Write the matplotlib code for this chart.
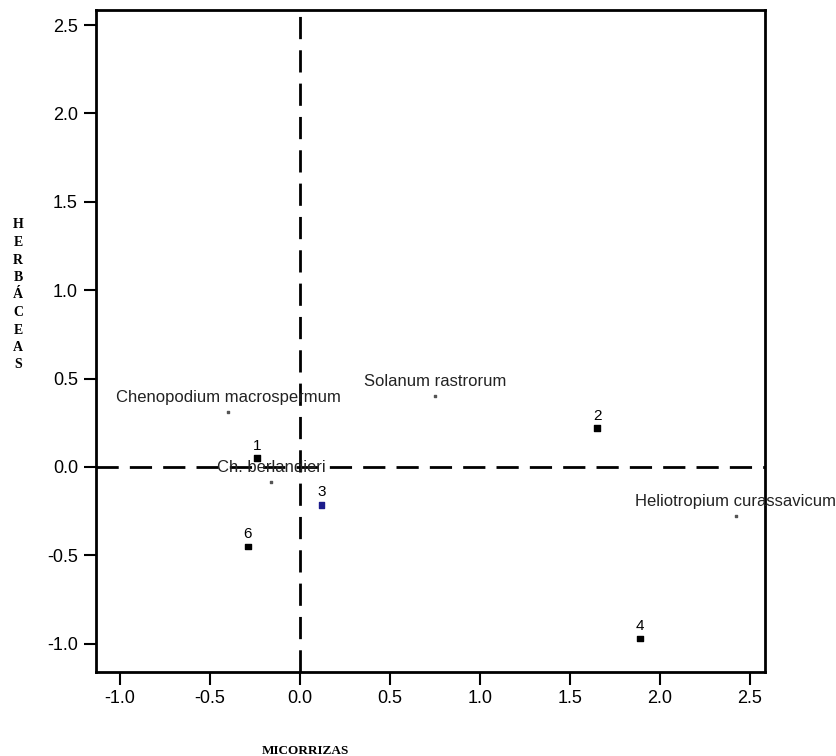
import matplotlib.pyplot as plt

# sites (numbered points)
site_labels = ['1', '2', '3', '4', '6']
site_x = [-0.24, 1.65, 0.12, 1.89, -0.29]
site_y = [0.05, 0.22, -0.215, -0.97, -0.45]
site_colors = ['black', 'black', '#1c1c8c', 'black', 'black']

# species (tiny points with names)
species = ['Chenopodium macrospermum', 'Solanum rastrorum',
           'Heliotropium curassavicum', 'Ch. berlandieri']
species_x = [-0.40, 0.75, 2.42, -0.16]
species_y = [0.31, 0.40, -0.28, -0.085]

xticks = [-1.0, -0.5, 0.0, 0.5, 1.0, 1.5, 2.0, 2.5]
yticks = [-1.0, -0.5, 0.0, 0.5, 1.0, 1.5, 2.0, 2.5]

plt.rcParams['font.family'] = ['Liberation Sans', 'DejaVu Sans']

fig = plt.figure(figsize=(8.37, 7.56), dpi=100)
ax = fig.add_axes([96 / 837, 1 - 672 / 756, (765 - 96) / 837, (672 - 10) / 756])
ax.set_xlim(-1.133, 2.583)
ax.set_ylim(-1.16, 2.585)

ax.axvline(0, color='black', lw=2, ls=(0, (8, 4)), zorder=1)
ax.axhline(0, color='black', lw=2, ls=(0, (8, 4)), zorder=1)

ax.scatter(site_x, site_y, marker='s', s=16, c=site_colors, zorder=3)
for lab, x, y in zip(site_labels, site_x, site_y):
    ax.annotate(lab, (x, y), xytext=(0, 4), textcoords='offset points',
                ha='center', va='bottom', fontsize=11)

ax.scatter(species_x, species_y, marker='s', s=1, c='#555555', zorder=3)
for lab, x, y in zip(species, species_x, species_y):
    ax.annotate(lab, (x, y), xytext=(0, 5), textcoords='offset points',
                ha='center', va='bottom', fontsize=12, color='#222222',
                annotation_clip=False)

ax.set_xticks(xticks)
ax.set_yticks(yticks)
ax.set_xticklabels(['%.1f' % v for v in xticks])
ax.set_yticklabels(['%.1f' % v for v in yticks])
ax.tick_params(direction='out', length=9, width=1.5, labelsize=13, pad=4)
for s in ax.spines.values():
    s.set_linewidth(2)

ax.set_xlabel('MICORRIZAS', family='Liberation Serif', fontweight='bold',
              fontsize=9.5)
ax.xaxis.set_label_coords((305 - 96) / (765 - 96), -(745 - 672) / 662)
fig.text(18 / 837, 1 - 295 / 756, '\n'.join('HERBÁCEAS'),
         family='Liberation Serif', fontweight='bold', fontsize=10,
         ha='center', va='center', linespacing=1.45)

fig.savefig('out.png', dpi=100)
